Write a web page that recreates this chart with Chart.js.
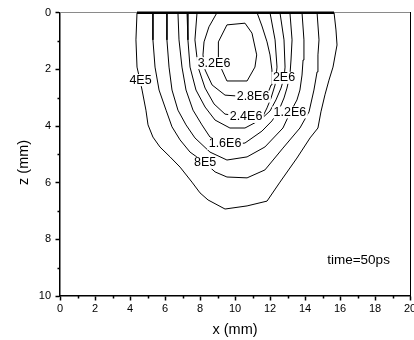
<!DOCTYPE html>
<html>
<head>
<meta charset="utf-8">
<script src="https://cdn.jsdelivr.net/npm/chart.js@4/dist/chart.umd.min.js"></script>
<style>
  html, body { margin: 0; padding: 0; background: #fff; }
</style>
</head>
<body>
<canvas id="c" width="414" height="340"></canvas>
<script>
// Contour levels (same units as the labels)
const levels = [4e5, 8e5, 1.2e6, 1.6e6, 2e6, 2.4e6, 2.8e6, 3.2e6];

// Contour paths, x (mm) and z (mm)
const x4e5 = [4.40, 4.34, 4.40, 4.57, 4.69, 4.91, 5.03, 5.31, 5.71, 6.29, 6.86, 7.54, 8.00, 8.46, 9.43, 10.69, 11.83, 12.57, 13.54, 14.29, 14.74, 14.91, 15.14, 15.37, 15.60, 15.83, 15.77, 15.66];
const z4e5 = [0.00, 0.96, 1.92, 2.38, 2.73, 3.44, 3.96, 4.39, 4.74, 5.09, 5.45, 5.98, 6.36, 6.61, 6.93, 6.82, 6.65, 5.98, 5.13, 4.42, 4.07, 3.50, 2.90, 2.38, 1.92, 1.14, 0.61, 0.00];

const x8e5 = [5.31, 5.31, 5.43, 5.66, 6.06, 6.40, 6.86, 7.43, 8.29, 8.86, 9.54, 10.69, 11.71, 12.74, 13.71, 14.23, 14.51, 14.69, 14.74, 14.80, 14.69];
const z8e5 = [0.00, 0.96, 1.92, 2.73, 3.44, 4.03, 4.49, 4.92, 5.30, 5.62, 5.80, 5.83, 5.55, 4.78, 4.07, 3.50, 2.73, 2.09, 1.49, 0.96, 0.00];

const x12e5 = [6.11, 6.11, 6.23, 6.40, 6.74, 7.20, 7.71, 8.57, 9.54, 10.69, 11.71, 12.74, 13.14, 13.54, 13.71, 13.83, 13.89, 13.94, 13.83];
const z12e5 = [0.00, 0.96, 1.92, 2.73, 3.44, 3.96, 4.42, 4.92, 5.20, 5.09, 4.74, 4.07, 3.54, 3.08, 2.73, 2.20, 1.67, 0.96, 0.00];

const x16e5 = [6.74, 6.80, 6.97, 7.20, 7.60, 8.11, 8.57, 9.43, 10.57, 11.54, 12.11, 12.51, 12.80, 12.97, 13.14, 13.20, 13.26, 13.14];
const z16e5 = [0.00, 0.96, 1.92, 2.73, 3.44, 3.96, 4.39, 4.67, 4.60, 4.18, 3.82, 3.44, 3.01, 2.66, 2.20, 1.67, 0.96, 0.00];

const x2e6 = [7.26, 7.31, 7.43, 7.77, 8.29, 8.86, 9.71, 10.57, 11.43, 12.00, 12.34, 12.63, 12.80, 12.86, 12.80, 12.57];
const z2e6 = [0.00, 0.96, 1.92, 2.73, 3.33, 3.79, 4.07, 4.07, 3.79, 3.47, 3.08, 2.66, 2.30, 1.92, 0.96, 0.00];

const x24e5 = [7.83, 7.71, 7.89, 8.29, 8.80, 9.43, 10.63, 11.60, 11.83, 12.06, 12.29, 12.40, 12.29, 12.00];
const z24e5 = [0.00, 0.96, 1.92, 2.66, 3.22, 3.58, 3.68, 3.65, 3.36, 3.01, 2.55, 1.92, 0.96, 0.00];

const x28e5 = [8.97, 8.51, 8.23, 8.17, 8.29, 8.69, 9.43, 11.03, 11.89, 12.06, 12.11, 12.00, 11.83, 11.54, 11.26];
const z28e5 = [0.00, 0.50, 1.03, 1.49, 2.02, 2.55, 2.91, 2.98, 2.83, 2.55, 2.02, 1.49, 1.03, 0.47, 0.00];

const x32e5 = [9.54, 10.57, 10.97, 11.24, 11.14, 10.69, 9.54, 9.05, 9.05, 9.54];
const z32e5 = [0.43, 0.37, 0.72, 1.49, 1.92, 2.41, 2.41, 1.74, 1.03, 0.43];

// Where each level's label sits on its contour
const labelX = [4.60, 8.29, 13.14, 9.43, 12.80, 10.63, 11.03, 8.80];
const labelZ = [2.38, 5.30, 3.52, 4.63, 2.30, 3.68, 2.96, 1.78];

// Axis tick values
const xTicks = [0, 2, 4, 6, 8, 10, 12, 14, 16, 18, 20];
const zTicks = [0, 2, 4, 6, 8, 10];

// Annotation
const noteText = 'time=50ps';
const noteX = 17.06;
const noteZ = 8.73;

const pathsX = [x4e5, x8e5, x12e5, x16e5, x2e6, x24e5, x28e5, x32e5];
const pathsZ = [z4e5, z8e5, z12e5, z16e5, z2e6, z24e5, z28e5, z32e5];

function levelText(v) {
  const e = Math.floor(Math.log10(v) + 1e-9);
  const m = +(v / Math.pow(10, e)).toFixed(1);
  return m + 'E' + e;
}

const FONT = '"Liberation Sans", Arial, sans-serif';

const datasets = levels.map((lv, i) => ({
  label: levelText(lv),
  data: pathsX[i].map((x, j) => ({ x: x, y: pathsZ[i][j] })),
  showLine: true,
  borderColor: '#000',
  borderWidth: 1,
  pointRadius: 0,
  pointHoverRadius: 0,
  tension: 0,
  fill: false
}));

// The outermost contour closes along the surface z = 0
datasets.push({
  label: 'surface',
  data: [{ x: x4e5[0], y: 0 }, { x: x4e5[x4e5.length - 1], y: 0 }],
  showLine: true,
  borderColor: '#000',
  borderWidth: 2.5,
  pointRadius: 0,
  clip: false
});

const minorTicks = {
  id: 'minorTicks',
  afterDraw(chart) {
    const { ctx, scales: { x, y } } = chart;
    ctx.save();
    ctx.strokeStyle = '#000';
    ctx.lineWidth = 1.5;
    ctx.beginPath();
    for (let v = 1; v < 20; v += 2) {
      const px = Math.round(x.getPixelForValue(v)) + 0.5;
      ctx.moveTo(px, y.bottom);
      ctx.lineTo(px, y.bottom + 2.5);
    }
    for (let v = 1; v < 10; v += 2) {
      const py = Math.round(y.getPixelForValue(v)) + 0.5;
      ctx.moveTo(x.left, py);
      ctx.lineTo(x.left - 2.5, py);
    }
    ctx.stroke();
    ctx.restore();
  }
};

const contourLabels = {
  id: 'contourLabels',
  afterDatasetsDraw(chart) {
    const { ctx, scales: { x, y } } = chart;
    ctx.save();
    ctx.font = '12.5px ' + FONT;
    ctx.textAlign = 'center';
    ctx.textBaseline = 'middle';
    levels.forEach((lv, i) => {
      const t = levelText(lv);
      const px = x.getPixelForValue(labelX[i]);
      const py = y.getPixelForValue(labelZ[i]);
      const w = ctx.measureText(t).width;
      ctx.fillStyle = '#fff';
      ctx.fillRect(px - w / 2 - 1.5, py - 6, w + 3, 12);
      ctx.fillStyle = '#000';
      ctx.fillText(t, px, py);
    });
    ctx.font = '13.5px ' + FONT;
    ctx.fillText(noteText, x.getPixelForValue(noteX), y.getPixelForValue(noteZ));
    ctx.restore();
  }
};

new Chart(document.getElementById('c'), {
  type: 'scatter',
  data: { datasets: datasets },
  options: {
    responsive: false,
    animation: false,
    devicePixelRatio: 1,
    layout: { padding: { top: 12.7, right: 4, left: 0, bottom: 0 } },
    plugins: { legend: { display: false }, tooltip: { enabled: false } },
    scales: {
      x: {
        type: 'linear', position: 'bottom', min: 0, max: 20,
        afterBuildTicks(s) { s.ticks = xTicks.map(v => ({ value: v })); },
        ticks: { color: '#000', font: { family: FONT, size: 11 }, padding: 2, maxRotation: 0, autoSkip: false },
        grid: { drawOnChartArea: false, drawTicks: true, tickLength: 4.5, tickColor: '#000', tickWidth: 1.5 },
        border: { color: '#000', width: 1.5 },
        title: { display: true, text: 'x (mm)', color: '#000', font: { family: FONT, size: 14.5 }, padding: { top: 0, bottom: 1 } },
        afterFit(s) { s.height = 44; s.paddingLeft = 0; s.paddingRight = 0; }
      },
      y: {
        type: 'linear', position: 'left', min: 0, max: 10, reverse: true,
        afterBuildTicks(s) { s.ticks = zTicks.map(v => ({ value: v })); },
        ticks: { color: '#000', font: { family: FONT, size: 11 }, padding: 4.5, autoSkip: false },
        grid: { drawOnChartArea: false, drawTicks: true, tickLength: 4.5, tickColor: '#000', tickWidth: 1.5 },
        border: { color: '#000', width: 1.5 },
        title: { display: true, text: 'z (mm)    ', color: '#000', font: { family: FONT, size: 14.5 }, padding: { top: 15, bottom: 0 } },
        afterFit(s) { s.width = 60; s.paddingTop = 0; s.paddingBottom = 0; }
      },
      xTop: {
        type: 'linear', position: 'top', min: 0, max: 20,
        ticks: { display: false },
        grid: { display: false, drawTicks: false },
        border: { color: '#8a8a8a', width: 1 },
        afterFit(s) { s.height = 0; s.paddingLeft = 0; s.paddingRight = 0; }
      },
      yRight: {
        type: 'linear', position: 'right', min: 0, max: 10, reverse: true,
        ticks: { display: false },
        grid: { display: false, drawTicks: false },
        border: { color: '#000', width: 1 },
        afterFit(s) { s.width = 0; s.paddingTop = 0; s.paddingBottom = 0; }
      }
    }
  },
  plugins: [minorTicks, contourLabels]
});
</script>
</body>
</html>
